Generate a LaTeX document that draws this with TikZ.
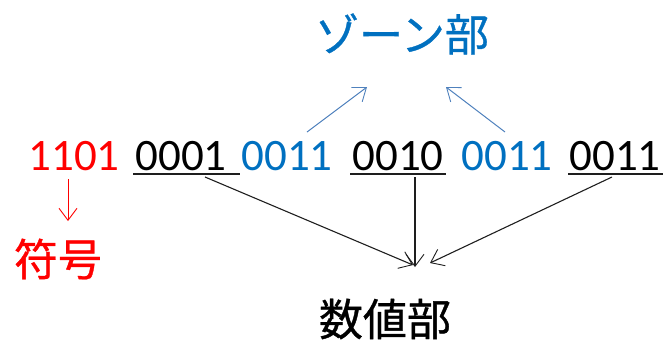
\documentclass[tikz,border=0pt]{standalone}
\usepackage{fontspec}
\setmainfont{Carlito}
\newfontfamily\jp[FakeBold=0.8]{Noto Sans CJK JP}
\usetikzlibrary{arrows.meta}
\definecolor{zred}{RGB}{255,0,0}
\definecolor{zblue}{RGB}{0,112,192}
\definecolor{zarrow}{RGB}{79,129,189}
\definecolor{zdark}{RGB}{30,30,30}
\tikzset{
  digits/.style={inner sep=0pt, anchor=base, font=\fontsize{45}{50}\selectfont},
  jptext/.style={inner sep=0pt, font=\jp\fontsize{44}{50}\selectfont},
  uline/.style={line width=1.3pt, zdark},
  tipv/.style={-{Straight Barb[length=12pt,width=18pt,line width=0.9pt]}},
  redarrow/.style={tipv, zred, line width=0.9pt},
  bluearrow/.style={tipv, zarrow, line width=1pt},
  blackarrow/.style={tipv, zdark, line width=1.1pt}
}
\begin{document}
\begin{tikzpicture}[x=1pt,y=-1pt]
\useasboundingbox (0,0) rectangle (664,341);
% top label
\node[jptext, text=zblue] (zone) at (402,34) {ゾーン部};
% digit groups
\node[digits, text=zred] (g1) at (74,170) {1101};
\node[digits, text=black] (g2) at (181,170) {0001};
\node[digits, text=zblue] (g3) at (287,170) {0011};
\node[digits, text=black] (g4) at (398,170) {0010};
\node[digits, text=zblue] (g5) at (507,170) {0011};
\node[digits, text=black] (g6) at (615,170) {0011};
% underlines
\draw[uline] (133,174) -- (240,174);
\draw[uline] (350,174) -- (446,174);
\draw[uline] (568,174) -- (663,174);
% bottom labels
\node[jptext, text=zred] (sign) at (58,259) {符号};
\node[jptext, text=black] (num) at (385,319) {数値部};
% connector end points
\coordinate (s2) at (205,177);
\coordinate (s4) at (415,177);
\coordinate (s6) at (612,177);
\coordinate (t2) at (413,265);
\coordinate (t4) at (415,267);
\coordinate (t6) at (430,263);
\coordinate (b3) at (307,132);
\coordinate (b5) at (505,132);
\coordinate (u3) at (367,87);
\coordinate (u5) at (446,87);
\coordinate (r1) at (68,179);
\coordinate (r2) at (68,221);
% connectors
\draw[redarrow] (r1) -- (r2);
\draw[bluearrow] (b3) -- (u3);
\draw[bluearrow] (b5) -- (u5);
\draw[blackarrow] (s2) -- (t2);
\draw[blackarrow] (s4) -- (t4);
\draw[blackarrow] (s6) -- (t6);
\end{tikzpicture}
\end{document}
